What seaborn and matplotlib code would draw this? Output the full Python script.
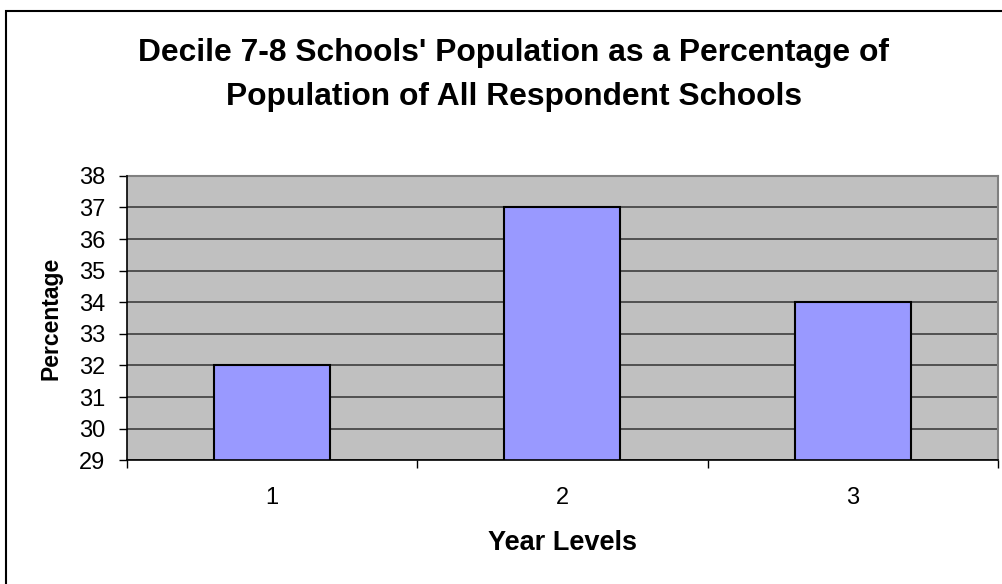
import matplotlib
matplotlib.use("Agg")
import matplotlib.pyplot as plt
from matplotlib.patches import Rectangle
from matplotlib.ticker import FixedLocator
import pandas as pd
import seaborn as sns

# Chart data
year_levels = ["1", "2", "3"]
percentages = [32, 37, 34]
y_ticks = [29, 30, 31, 32, 33, 34, 35, 36, 37, 38]

title_text = "Decile 7-8 Schools' Population as a Percentage of\nPopulation of All Respondent Schools"

sns.set_theme(style="white")
plt.rcParams["font.family"] = ["Liberation Sans", "DejaVu Sans"]

df = pd.DataFrame({"Year Levels": year_levels, "Percentage": percentages})

fig = plt.figure(figsize=(10.03, 5.84), dpi=100)
ax = fig.add_axes([0.1263, 0.2118, 0.995 - 0.1263, 0.699 - 0.2118])

ax.set_facecolor("#C0C0C0")
sns.barplot(data=df, x="Year Levels", y="Percentage", ax=ax, width=0.4,
            color="#9999FF", saturation=1, edgecolor="black", linewidth=1.5,
            zorder=3)

ax.set_ylim(29, 38)
ax.set_xlim(-0.5, 2.5)
ax.set_yticks(y_ticks)
ax.yaxis.grid(True, color="#333333", linewidth=1.1, zorder=1)
ax.set_axisbelow(True)

# Category separators as ticks on the x axis
ax.xaxis.set_minor_locator(FixedLocator([-0.5, 0.5, 1.5, 2.5]))
ax.tick_params(axis="x", which="major", length=0, pad=19, labelsize=17, colors="black")
ax.tick_params(axis="x", which="minor", length=5.8, width=1, color="black", direction="out", bottom=True)
ax.tick_params(axis="y", which="major", length=5.8, width=1, color="black", direction="out",
               left=True, labelsize=17, pad=9.5, labelcolor="black")

for side in ("top", "right"):
    ax.spines[side].set_color("#808080")
    ax.spines[side].set_linewidth(1.5)
for side in ("left", "bottom"):
    ax.spines[side].set_color("black")
    ax.spines[side].set_linewidth(1.2)
    ax.spines[side].set_zorder(4)

ax.set_xlabel("Year Levels", fontsize=19.5, fontweight="bold", labelpad=15, color="black")
ax.set_ylabel("Percentage", fontsize=16.5, fontweight="bold", labelpad=12, color="black")

fig.text(0.512, 0.872, title_text, ha="center", va="center", fontsize=22.9,
         fontweight="bold", linespacing=1.6, color="black")

# Chart-area border
fig.patches.append(Rectangle((6.5 / 1003, -0.05), 1.2, 1 - 11 / 584 + 0.05,
                             transform=fig.transFigure, fill=False,
                             edgecolor="black", linewidth=1.5))

fig.savefig("out.png", dpi=100)
